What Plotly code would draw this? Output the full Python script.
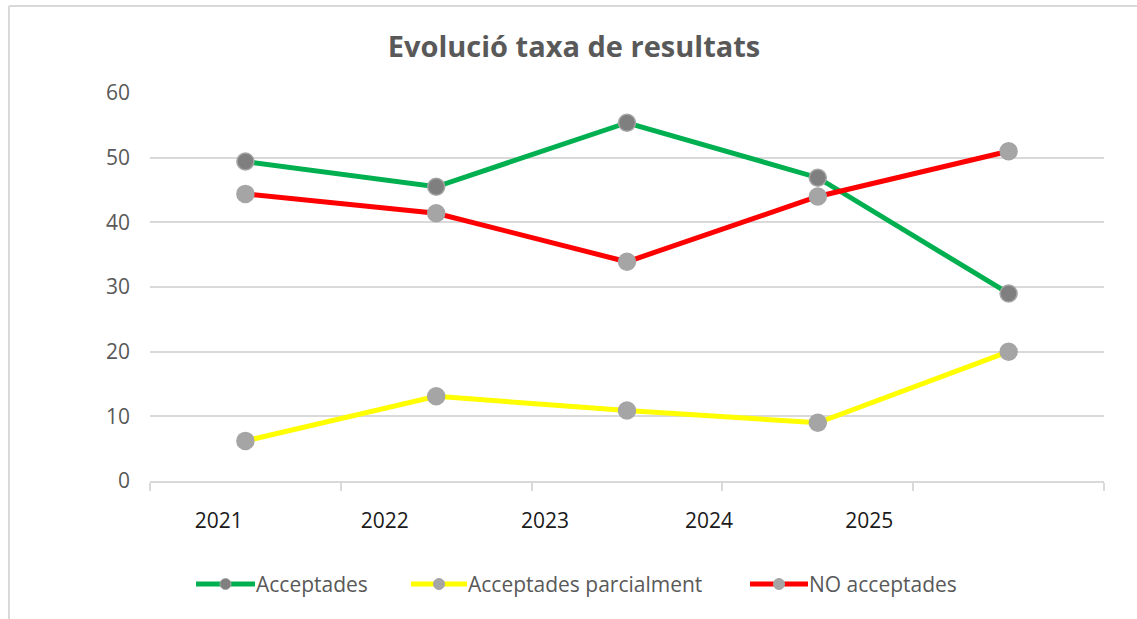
import plotly.graph_objects as go

# ---- data ----
years = ["2021", "2022", "2023", "2024", "2025"]
acceptades = [49.4, 45.5, 55.4, 46.9, 29.0]
parcialment = [6.2, 13.1, 10.9, 9.0, 20.0]
no_acceptades = [44.4, 41.4, 33.9, 44.0, 51.0]
y_ticks = [0, 10, 20, 30, 40, 50, 60]
series_names = ["Acceptades", "Acceptades parcialment", "NO acceptades"]

# ---- layout / style constants ----
W, H = 1137, 619
ML, MR, MT, MB = 150, 33, 93, 138
label_offset = [-0.14, 0.73, 1.57, 2.43, 3.27]  # where the year labels sit on the axis
line_colors = ["#00b050", "#ffff00", "#ff0000"]
marker_fill = ["#7f7f7f", "#a5a5a5", "#a5a5a5"]
legend_line_px = [(196, 255), (411, 467), (750, 808)]  # legend symbol extents (px)
legend_y_px = 584

xs = list(range(len(years)))
font_family = "Open Sans, DejaVu Sans, sans-serif"
pw = W - ML - MR
ph = H - MT - MB


def px_x(p):
    return (p - ML) / pw


def px_y(p):
    return (H - MB - p) / ph


fig = go.Figure()
for name, vals, col, mf in zip(series_names, [acceptades, parcialment, no_acceptades],
                               line_colors, marker_fill):
    fig.add_trace(go.Scatter(
        x=xs, y=vals, name=name, mode="lines+markers", showlegend=False,
        line=dict(color=col, width=5),
        marker=dict(size=17, color=mf, line=dict(color="#a5a5a5", width=1.5)),
    ))

# frame of the chart box
shapes = [
    dict(type="line", xref="paper", yref="paper", x0=px_x(9), x1=px_x(9),
         y0=px_y(H), y1=px_y(6), line=dict(color="#d9d9d9", width=2)),
    dict(type="line", xref="paper", yref="paper", x0=px_x(9), x1=px_x(W),
         y0=px_y(6), y1=px_y(6), line=dict(color="#d9d9d9", width=2)),
]
annotations = []
# legend drawn as line + marker + text
r = 5.5
for (x0, x1), name, col, mf in zip(legend_line_px, series_names, line_colors, marker_fill):
    shapes.append(dict(type="line", xref="paper", yref="paper",
                       x0=px_x(x0), x1=px_x(x1), y0=px_y(legend_y_px), y1=px_y(legend_y_px),
                       line=dict(color=col, width=5)))
    cx = (x0 + x1) / 2
    shapes.append(dict(type="circle", xref="paper", yref="paper",
                       x0=px_x(cx - r), x1=px_x(cx + r),
                       y0=px_y(legend_y_px + r), y1=px_y(legend_y_px - r),
                       fillcolor=mf, line=dict(color="#a5a5a5", width=1)))
    annotations.append(dict(text=name, xref="paper", yref="paper", x=px_x(x1 - 1),
                            y=px_y(legend_y_px), xanchor="left", yanchor="middle",
                            showarrow=False, font=dict(size=21, color="#595959")))

fig.update_layout(
    width=W, height=H,
    margin=dict(l=ML, r=MR, t=MT, b=MB),
    paper_bgcolor="white", plot_bgcolor="white",
    font=dict(family=font_family, color="#595959", size=21),
    title=dict(text="<b>Evolució taxa de resultats</b>", x=574 / W, xanchor="center",
               y=1 - 47 / H, yanchor="middle",
               font=dict(size=29, color="#595959", family=font_family)),
    xaxis=dict(range=[-0.5, len(years) - 0.5], tickvals=label_offset, ticktext=years,
               ticks="", showgrid=False, zeroline=False,
               showline=True, linecolor="#d9d9d9", linewidth=1.5,
               tickfont=dict(color="#1a1a1a", size=21),
               ticklabelstandoff=20,
               minor=dict(tickvals=[i - 0.5 for i in range(len(years) + 1)],
                          ticks="outside", ticklen=8, tickcolor="#d9d9d9",
                          tickwidth=1.5, showgrid=False)),
    yaxis=dict(range=[0, 60], tickvals=y_ticks, showgrid=True, gridcolor="#d9d9d9",
               gridwidth=1.5, zeroline=False, showline=False, ticks="",
               tickfont=dict(color="#595959", size=21), ticklabelstandoff=19),
    showlegend=False,
    shapes=shapes,
    annotations=annotations,
)

fig.write_html("out.html", config={"displayModeBar": False},
               post_script="document.body.style.margin='0';")
